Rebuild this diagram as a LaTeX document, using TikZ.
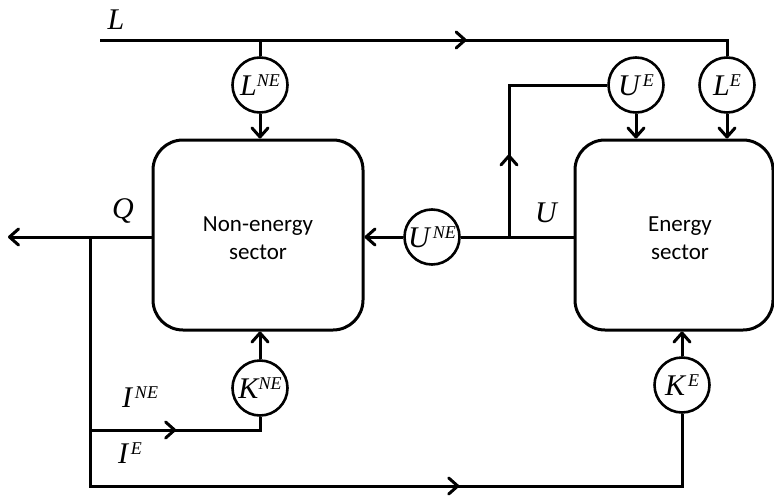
\documentclass[tikz,border=0pt]{standalone}
\usepackage{fontspec}
\usetikzlibrary{arrows.meta,decorations.markings}
\newfontfamily\tms{Liberation Serif}
\newfontfamily\carl{Carlito}
\newcommand{\mv}[2]{{\fontsize{30}{30}\tms\itshape\selectfont #1\raisebox{9pt}{\fontsize{18}{18}\selectfont #2}}}
\begin{document}
\begin{tikzpicture}[x=1pt,y=-1pt]
\tikzset{
  ln/.style={line width=3pt, line join=miter},
  barb/.tip={Straight Barb[length=9pt,width=16pt,line width=3pt,line cap=round,line join=round]},
  tip/.style={-barb},
  midarrow/.style={postaction={decorate}, decoration={markings, mark=at position #1 with {\arrow{barb}}}},
  circ/.style={circle, draw, line width=2.6pt, minimum size=55pt, inner sep=0pt},
  sectorbox/.style={draw, rounded corners=30pt, line width=3pt, align=center},
  sectortext/.style={align=center, font=\carl\fontsize{23}{28}\selectfont},
  lab/.style={inner sep=0pt}
}
\useasboundingbox (0,0) rectangle (774,498);
% boxes
\node[sectorbox, minimum width=210pt, minimum height=190pt] (NE) at (258,235) {};
\node[sectortext] (NEt) at (258,238) {Non-energy\\sector};
\node[sectorbox, minimum width=198pt, minimum height=190pt] (E) at (674,235) {};
\node[sectortext] (Et) at (680,238) {Energy\\sector};
% circles
\node[circ] (LNE) at (260,85) {\mv{L}{NE}};
\node[circ] (UE) at (636,85) {\mv{U}{\,E}};
\node[circ] (LE) at (727,85) {\mv{L}{E}};
\node[circ] (UNE) at (432,237) {\mv{U}{\,NE}};
\node[circ] (KNE) at (260,388) {\mv{K}{NE}};
\node[circ] (KE) at (682,385) {\mv{K}{\,E}};
% coordinates
\coordinate (Ls) at (100,40);
\coordinate (Le) at (727,40);
\coordinate (Lj) at (260,40);
\coordinate (Qs) at (153,237);
\coordinate (Qe) at (8,237);
\coordinate (Qj) at (90,237);
\coordinate (Ib) at (90,486);
\coordinate (Ij) at (90,430);
\coordinate (Kc) at (260,430);
\coordinate (KEc) at (682,486);
\coordinate (Uj) at (509,237);
\coordinate (Uc) at (509,85);
\coordinate (Us) at (575,237);
% labels
\node[lab] (Ll) at (116,20) {\mv{L}{}};
\node[lab] (Ql) at (123,211) {\mv{Q}{}};
\node[lab] (Ul) at (546,213) {\mv{U}{}};
\node[lab] (INEl) at (140,397) {\mv{I}{\,NE}};
\node[lab] (IEl) at (130,453) {\mv{I}{\,E}};
% connectors
\draw[ln, midarrow=0.57] (Ls) -- (Le) -- (LE.north);
\draw[ln] (Lj) -- (LNE.north);
\draw[ln, tip] (LNE.south) -- (LNE.south |- NE.north);
\draw[ln, tip] (UE.south) -- (UE.south |- E.north);
\draw[ln, tip] (LE.south) -- (LE.south |- E.north);
\draw[ln, midarrow=0.33] (Uj) -- (Uc) -- (UE.west);
\draw[ln] (Us) -- (UNE.east);
\draw[ln, tip] (UNE.west) -- (UNE.west -| NE.east);
\draw[ln, tip] (Qs) -- (Qe);
\draw[ln, midarrow=0.677] (Qj) -- (Ib) -- (KEc) -- (KE.south);
\draw[ln, midarrow=0.47] (Ij) -- (Kc) -- (KNE.south);
\draw[ln, tip] (KNE.north) -- (KNE.north |- NE.south);
\draw[ln, tip] (KE.north) -- (KE.north |- E.south);
\end{tikzpicture}
\end{document}
